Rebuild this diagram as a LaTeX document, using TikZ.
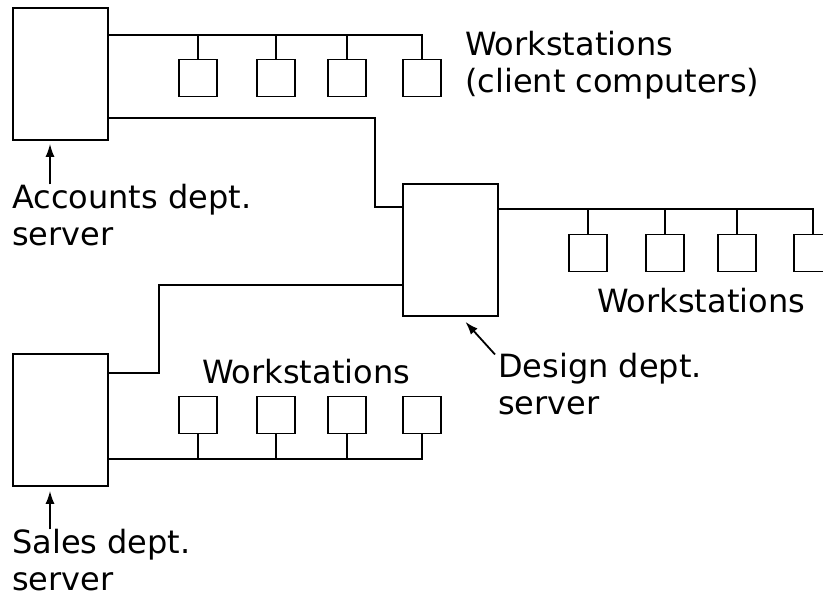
\documentclass[tikz,border=0pt]{standalone}
\usepackage{fontspec}
\setmainfont{DejaVu Sans}
\usetikzlibrary{arrows.meta}
\begin{document}
\begin{tikzpicture}[x=1pt,y=-1pt,
  server/.style={draw,line width=1.8pt,minimum width=95pt,minimum height=132pt,inner sep=0pt,anchor=north west},
  ws/.style={draw,line width=1.8pt,minimum width=38pt,minimum height=37pt,inner sep=0pt},
  wire/.style={line width=1.8pt},
  lbl/.style={font=\fontsize{32}{37}\selectfont,align=left,inner sep=0pt,anchor=base west},
  pointer/.style={line width=1.8pt,-{Latex[length=13pt,width=9pt]}}]
\clip (0,0) rectangle (823,605);
% servers
\node[server] (acc) at (12,7) {};
\node[server] (des) at (402,183) {};
\node[server] (sal) at (12,353) {};
% workstations
\node[ws] (t1) at (198,78) {};
\node[ws] (t2) at (276,78) {};
\node[ws] (t3) at (347,78) {};
\node[ws] (t4) at (422,78) {};
\node[ws] (d1) at (588,253) {};
\node[ws] (d2) at (665,253) {};
\node[ws] (d3) at (737,253) {};
\node[ws] (d4) at (813,253) {};
\node[ws] (s1) at (198,415) {};
\node[ws] (s2) at (276,415) {};
\node[ws] (s3) at (347,415) {};
\node[ws] (s4) at (422,415) {};
% bus coordinates
\coordinate (b1) at (108,35);
\coordinate (b2) at (497,209);
\coordinate (b3) at (108,459);
\coordinate (k1) at (375,118);
\coordinate (k2) at (375,207);
\coordinate (k3) at (159,373);
\coordinate (k4) at (159,285);
% buses
\draw[wire] (acc.east |- b1) -| (t4.north);
\foreach \w in {t1,t2,t3} \draw[wire] (\w.north) -- (\w.north |- b1);
\draw[wire] (des.east |- b2) -| (d4.north);
\foreach \w in {d1,d2,d3} \draw[wire] (\w.north) -- (\w.north |- b2);
\draw[wire] (sal.east |- b3) -| (s4.south);
\foreach \w in {s1,s2,s3} \draw[wire] (\w.south) -- (\w.south |- b3);
% inter-server links
\draw[wire] (acc.east |- k1) -- (k1) -- (k2) -- (des.west |- k2);
\draw[wire] (sal.east |- k3) -- (k3) -- (k4) -- (des.west |- k4);
% labels (anchor = baseline of last line)
\node[lbl] (tl) at (465,92) {Workstations\\(client computers)};
\node[lbl] (dw) at (597,312) {Workstations};
\node[lbl] (sw) at (202,383) {Workstations};
\node[lbl] (al) at (12,245) {Accounts dept.\\server};
\node[lbl] (dl) at (498,414) {Design dept.\\server};
\node[lbl] (sl) at (12,590) {Sales dept.\\server};
% pointers
\draw[pointer] ([xshift=38pt,yshift=-1pt]al.north west) -- ([xshift=38pt,yshift=-3pt]acc.south west);
\draw[pointer] ([xshift=-3pt,yshift=-2pt]dl.north west) -- ([xshift=15pt,yshift=-5pt]des.south);
\draw[pointer] ([xshift=38pt,yshift=-1pt]sl.north west) -- ([xshift=38pt,yshift=-4pt]sal.south west);
\end{tikzpicture}
\end{document}
